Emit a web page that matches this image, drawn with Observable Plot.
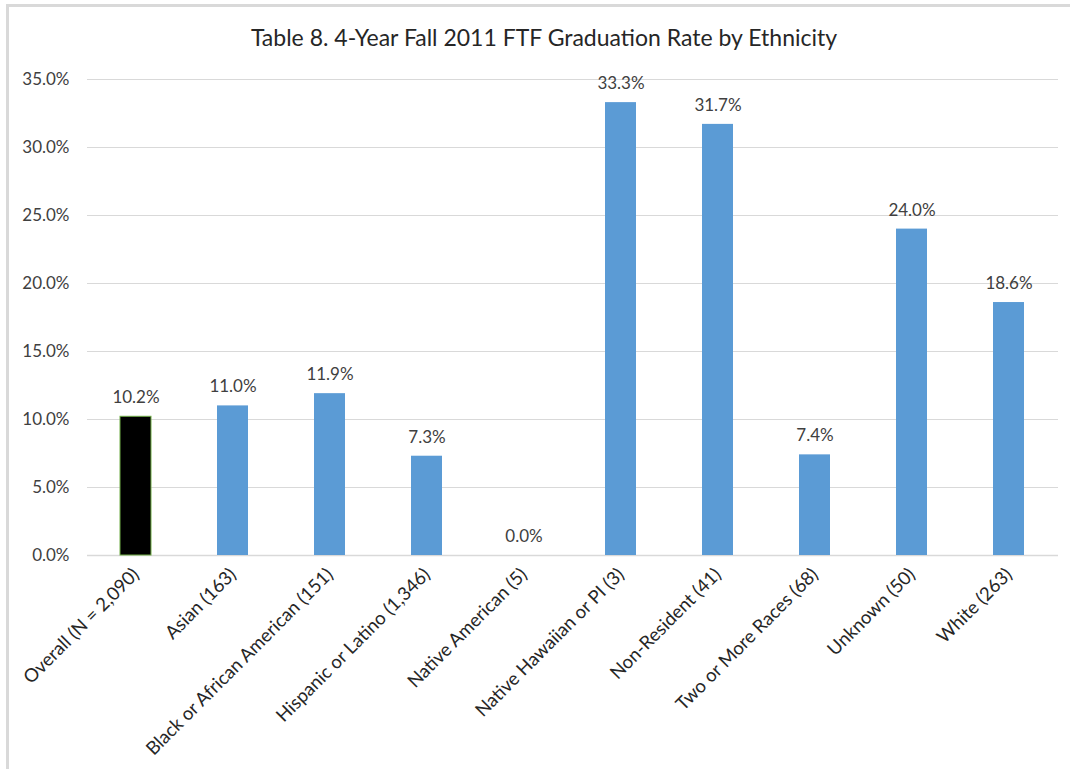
<!DOCTYPE html>
<html>
<head>
<meta charset="utf-8">
<script src="https://cdn.jsdelivr.net/npm/d3@7"></script>
<script src="https://cdn.jsdelivr.net/npm/@observablehq/plot@0.6"></script>
<style>
  html, body { margin: 0; padding: 0; background: #fff; }
  #page { position: relative; width: 1070px; height: 769px; overflow: hidden; font-family: Lato, "Open Sans", sans-serif; }
  #frameTop { position: absolute; left: 6px; top: 4px; width: 1064px; height: 3px; background: #d9d9d9; }
  #frameLeft { position: absolute; left: 6px; top: 4px; width: 3px; height: 765px; background: #d9d9d9; }
  #title { position: absolute; left: 0; top: 23px; width: 1088px; text-align: center; font-size: 23px; color: #262626; line-height: 28px; }
  #chart { position: absolute; left: 0; top: 62px; }
</style>
</head>
<body>
<div id="page">
  <div id="frameTop"></div>
  <div id="frameLeft"></div>
  <div id="title">Table 8. 4-Year Fall 2011 FTF Graduation Rate by Ethnicity</div>
  <div id="chart"></div>
</div>
<script>
const categories = [
  "Overall (N = 2,090)",
  "Asian (163)",
  "Black or African American (151)",
  "Hispanic or Latino (1,346)",
  "Native American (5)",
  "Native Hawaiian or PI (3)",
  "Non-Resident (41)",
  "Two or More Races (68)",
  "Unknown (50)",
  "White (263)"
];
const rates = [0.102, 0.110, 0.119, 0.073, 0.000, 0.333, 0.317, 0.074, 0.240, 0.186];
const yTicks = [0, 0.05, 0.10, 0.15, 0.20, 0.25, 0.30, 0.35];

const data = categories.map((c, i) => ({category: c, rate: rates[i], overall: i === 0}));
const pct = d3.format(".1%");

const chart = Plot.plot({
  width: 1070,
  height: 707,
  marginTop: 17,
  marginBottom: 214,
  marginLeft: 87,
  marginRight: 12,
  style: {fontFamily: "Lato, 'Open Sans', sans-serif", fontSize: "16px", color: "#404040", background: "transparent"},
  x: {domain: categories, paddingInner: 0.68, paddingOuter: 0.34, align: 0.5, label: null},
  y: {domain: [0, 0.35], label: null},
  marks: [
    Plot.gridY(yTicks, {stroke: "#d9d9d9", strokeOpacity: 1, strokeWidth: 1}),
    Plot.ruleY([0], {stroke: "#d9d9d9", strokeWidth: 1.5}),
    Plot.barY(data, {
      x: "category", y: "rate",
      fill: d => d.overall ? "#000000" : "#5b9bd5",
      stroke: d => d.overall ? "#70ad47" : "none",
      strokeWidth: 1
    }),
    Plot.text(data, {
      x: "category", y: "rate", text: d => pct(d.rate),
      dy: -19, fill: "#404040", fontSize: 17
    }),
    Plot.axisY(yTicks, {tickFormat: pct, tickSize: 0, tickPadding: 18, fontSize: 17, fill: "#404040"}),
    Plot.axisX({tickSize: 0, tickRotate: -45, tickPadding: 16, fontSize: 18.5, fill: "#262626", label: null})
  ]
});
document.getElementById("chart").appendChild(chart);
</script>
</body>
</html>
